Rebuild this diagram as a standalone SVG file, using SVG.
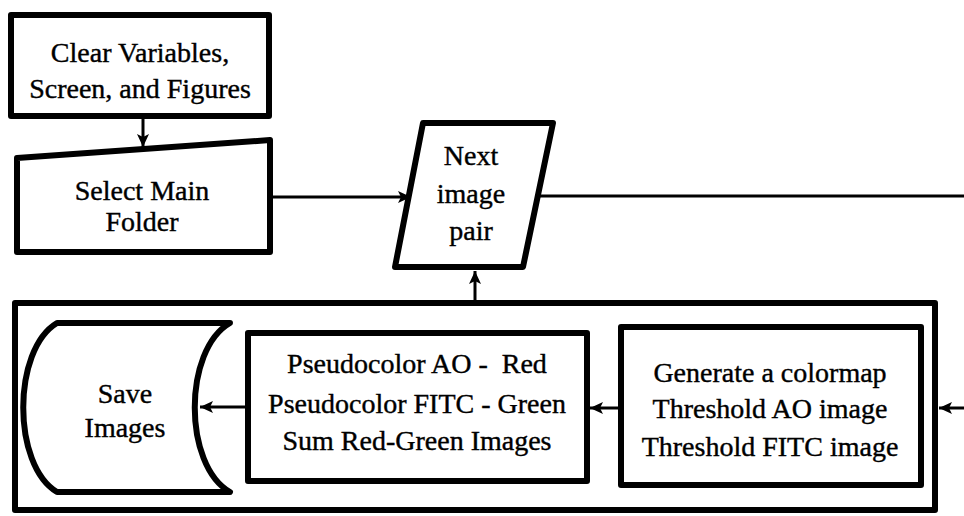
<svg xmlns="http://www.w3.org/2000/svg" width="964" height="516" viewBox="0 0 964 516">
<defs>
<marker id="ah" markerUnits="userSpaceOnUse" markerWidth="14" markerHeight="14" viewBox="0 0 14 14" refX="13" refY="7" orient="auto">
<path d="M0,1 L13,7 L0,13 L3,7 Z" fill="#000"/>
</marker>
<style>
.box{fill:#fff;stroke:#000;stroke-width:6;stroke-linejoin:round}
.t{font-family:"Liberation Serif","Times New Roman",serif;font-size:28px;fill:#000;stroke:#000;stroke-width:0.4;text-anchor:middle}
.c{fill:none;stroke:#000;stroke-width:3}
</style>
</defs>
<rect width="964" height="516" fill="#fff"/>
<g id="container">
<rect class="box" x="15" y="303" width="920" height="207" stroke-linejoin="miter"/>
</g>
<g id="clear">
<rect class="box" x="11" y="15" width="258" height="101"/>
<text class="t" x="140" y="62">Clear Variables,</text>
<text class="t" x="140" y="98">Screen, and Figures</text>
</g>
<g id="select">
<polygon class="box" points="17,158 270,140 270,252 17,252"/>
<text class="t" x="142" y="200">Select Main</text>
<text class="t" x="142" y="231">Folder</text>
</g>
<g id="next">
<polygon class="box" points="423,123 553,123 523,267 395,267"/>
<text class="t" x="471" y="165">Next</text>
<text class="t" x="471" y="203">image</text>
<text class="t" x="471" y="240">pair</text>
</g>
<g id="save">
<path class="box" d="M57,323 L230,323 C183,350 183,465 230,492 L57,492 C12,465 12,350 57,323 Z"/>
<text class="t" x="125" y="403">Save</text>
<text class="t" x="125" y="437">Images</text>
</g>
<g id="pseudo">
<rect class="box" x="248" y="333" width="339" height="148"/>
<text class="t" x="417" y="373" xml:space="preserve">Pseudocolor AO -  Red</text>
<text class="t" x="417" y="413">Pseudocolor FITC - Green</text>
<text class="t" x="417" y="450">Sum Red-Green Images</text>
</g>
<g id="generate">
<rect class="box" x="621" y="327" width="300" height="158"/>
<text class="t" x="770" y="382">Generate a colormap</text>
<text class="t" x="770" y="418">Threshold AO image</text>
<text class="t" x="770" y="456">Threshold FITC image</text>
</g>
<g id="connectors">
<line class="c" x1="143" y1="119" x2="143" y2="147" marker-end="url(#ah)"/>
<line class="c" x1="273" y1="197" x2="411" y2="197" marker-end="url(#ah)"/>
<line class="c" x1="538" y1="196" x2="964" y2="196"/>
<line class="c" x1="475" y1="300" x2="475" y2="271" marker-end="url(#ah)"/>
<line class="c" x1="964" y1="408" x2="939" y2="408" marker-end="url(#ah)"/>
<line class="c" x1="618" y1="408" x2="590" y2="408" marker-end="url(#ah)"/>
<line class="c" x1="245" y1="407" x2="200" y2="407" marker-end="url(#ah)"/>
</g>
</svg>
